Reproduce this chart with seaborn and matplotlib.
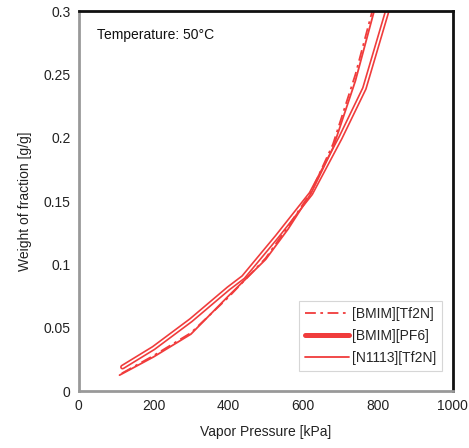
import matplotlib
matplotlib.use("Agg")
import matplotlib.pyplot as plt
import seaborn as sns
import pandas as pd

sns.set_theme(style="white")
plt.rcParams['font.family'] = ['Liberation Sans', 'DejaVu Sans']

tf2n_x = [115, 200, 300, 400, 500, 560, 621, 680, 740, 785, 800]
tf2n_y = [0.014, 0.028, 0.046, 0.074, 0.105, 0.130, 0.157, 0.195, 0.250, 0.300, 0.315]

pf6_x = [117, 200, 300, 400, 440, 530, 621, 700, 764, 825, 840]
pf6_y = [0.019, 0.034, 0.056, 0.081, 0.090, 0.122, 0.156, 0.200, 0.239, 0.300, 0.315]

n1113_x = [109, 200, 300, 400, 500, 560, 621, 680, 740, 790, 805]
n1113_y = [0.0126, 0.027, 0.045, 0.075, 0.104, 0.128, 0.156, 0.192, 0.245, 0.300, 0.315]

red = "#f03c3c"

fig = plt.figure(figsize=(4.69, 4.48), dpi=100)
ax = fig.add_axes([0.168, 0.127, 0.797, 0.848])

sns.lineplot(x=pf6_x, y=pf6_y, ax=ax, color=red, lw=3.6, label="[BMIM][PF6]", sort=False)
sns.lineplot(x=pf6_x, y=pf6_y, ax=ax, color="white", lw=1.2, sort=False, legend=False)
sns.lineplot(x=n1113_x, y=n1113_y, ax=ax, color=red, lw=1.3, label="[N1113][Tf2N]", sort=False)
sns.lineplot(x=tf2n_x, y=tf2n_y, ax=ax, color=red, lw=1.3, ls=(0, (6, 2.5, 1.5, 2.5)),
             label="[BMIM][Tf2N]", sort=False)

ax.set_xlim(0, 1000)
ax.set_ylim(0, 0.3)
ax.set_xticks([0, 200, 400, 600, 800, 1000])
ax.set_yticks([0, 0.05, 0.1, 0.15, 0.2, 0.25, 0.3])
ax.set_yticklabels(["0", "0.05", "0.1", "0.15", "0.2", "0.25", "0.3"])
ax.tick_params(axis="both", length=0, labelsize=10, colors="#222222", pad=6)
ax.set_xlabel("Vapor Pressure [kPa]", fontsize=10, color="#222222", labelpad=8)
ax.set_ylabel("Weight of fraction [g/g]", fontsize=10, color="#222222", labelpad=8)

for side in ["left", "bottom"]:
    ax.spines[side].set_color("#999999")
    ax.spines[side].set_linewidth(2)
for side in ["top", "right"]:
    ax.spines[side].set_color("#111111")
    ax.spines[side].set_linewidth(2)

ax.text(0.05, 0.955, "Temperature: 50°C", transform=ax.transAxes, fontsize=10,
        va="top", ha="left", color="#111111")

handles, labels = ax.get_legend_handles_labels()
order = [labels.index("[BMIM][Tf2N]"), labels.index("[BMIM][PF6]"), labels.index("[N1113][Tf2N]")]
leg = ax.legend([handles[i] for i in order], [labels[i] for i in order],
                loc="lower right", fontsize=10, frameon=True, fancybox=False,
                edgecolor="#cccccc", handlelength=3.2, handletextpad=0.2,
                borderpad=0.4, labelspacing=0.6, bbox_to_anchor=(0.99, 0.035))
leg.get_frame().set_linewidth(0.8)

fig.savefig("out.png", dpi=100)
